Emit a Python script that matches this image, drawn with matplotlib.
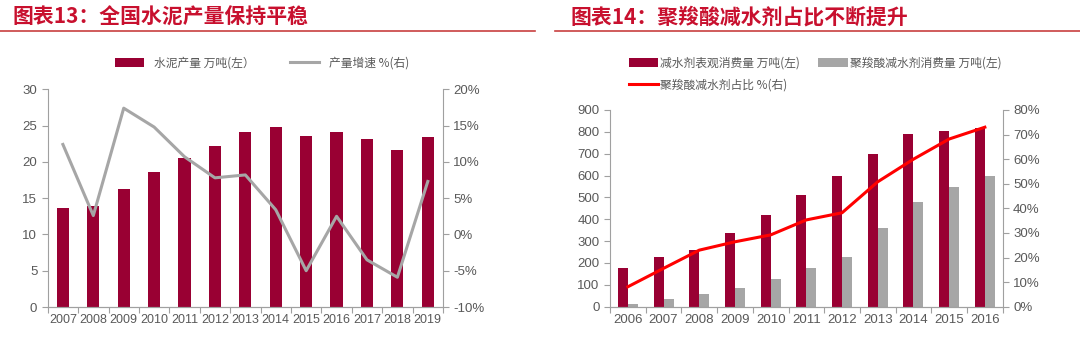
import matplotlib
matplotlib.use("Agg")
import matplotlib.pyplot as plt
import numpy as np
from matplotlib.ticker import FuncFormatter

plt.rcParams['font.family'] = ['Liberation Sans', 'Noto Sans CJK SC', 'DejaVu Sans']

# 图表13 数据
years13 = ['2007', '2008', '2009', '2010', '2011', '2012', '2013',
           '2014', '2015', '2016', '2017', '2018', '2019']
cement = [13.6, 13.9, 16.2, 18.6, 20.6, 22.2, 24.1, 24.8, 23.5, 24.1, 23.2, 21.7, 23.4]
growth = [12.4, 2.6, 17.4, 14.8, 10.7, 7.8, 8.2, 3.4, -5.0, 2.5, -3.5, -5.9, 7.3]

# 图表14 数据
years14 = ['2006', '2007', '2008', '2009', '2010', '2011', '2012',
           '2013', '2014', '2015', '2016']
reducer = [176, 227, 261, 336, 421, 510, 600, 699, 792, 803, 819]
pce = [11, 35, 58, 87, 125, 176, 227, 359, 478, 548, 600]
share = [8.1, 15.6, 23.0, 26.4, 29.2, 35.3, 38.2, 50.8, 60.0, 68.2, 73.0]

BAR = '#990033'
GRAY = '#A6A6A6'
TXT = '#595959'
SPINE = '#A0A0A0'
TITLE_RED = '#C8102E'
cjk = ['Noto Sans CJK SC', 'DejaVu Sans']

fig = plt.figure(figsize=(10.8, 3.46), dpi=100)
W, H = 1080, 346


def box(x0, y0, x1, y1):
    return [x0 / W, 1 - y1 / H, (x1 - x0) / W, (y1 - y0) / H]


def style(ax, ax2, n, xsize):
    for a in (ax, ax2):
        a.spines['top'].set_visible(False)
        for s in ('left', 'right', 'bottom'):
            a.spines[s].set_color(SPINE)
        a.tick_params(colors=SPINE, labelcolor=TXT, labelsize=9.5, length=4)
    ax2.spines['left'].set_visible(False)
    ax.spines['right'].set_visible(False)
    ax.set_xlim(-0.5, n - 0.5)
    ax.set_xticks(np.arange(-0.5, n, 1.0))
    ax.set_xticklabels([])
    ax.set_xticks(np.arange(n), minor=True)
    ax.tick_params(axis='x', which='minor', length=0, labelsize=xsize, labelcolor=TXT, pad=5)


# 标题
fig.text(12 / W, 1 - 17 / H, '图表13：全国水泥产量保持平稳', family=cjk, fontsize=15,
         fontweight='bold', style='italic', color=TITLE_RED, va='center')
fig.text(570 / W, 1 - 17 / H, '图表14：聚羧酸减水剂占比不断提升', family=cjk, fontsize=15,
         fontweight='bold', style='italic', color=TITLE_RED, va='center')
fig.add_artist(plt.Line2D([0, 535 / W], [1 - 31 / H] * 2, color='#C84040', lw=1.2))
fig.add_artist(plt.Line2D([555 / W, 1], [1 - 31 / H] * 2, color='#C84040', lw=1.2))

# 左图
ax = fig.add_axes(box(47.7, 89.3, 443, 307))
ax2 = ax.twinx()
x = np.arange(len(years13))
b1 = ax.bar(x, cement, width=0.4, color=BAR)
l1, = ax2.plot(x, growth, color=GRAY, lw=2.2)
ax.set_ylim(0, 30)
ax.set_yticks(range(0, 31, 5))
ax2.set_ylim(-10, 20)
ax2.set_yticks(range(-10, 21, 5))
ax2.yaxis.set_major_formatter(FuncFormatter(lambda v, p: f'{v:.0f}%'))
style(ax, ax2, len(years13), 9)
ax.set_xticklabels(years13, minor=True)
ax.set_zorder(ax2.get_zorder() - 1)
ax2.patch.set_visible(False)
leg = fig.legend([b1, l1], ['水泥产量 万吨(左）', '产量增速 %(右)'], loc='center',
                 bbox_to_anchor=(262 / W, 1 - 63 / H), ncol=2, frameon=False,
                 prop={'family': cjk, 'size': 8.5}, handlelength=2.5, columnspacing=3)
for t in leg.get_texts():
    t.set_color(TXT)

# 右图
bx = fig.add_axes(box(610, 110, 1002.7, 306.7))
bx2 = bx.twinx()
x = np.arange(len(years14))
bw = 0.28
r1 = bx.bar(x - bw / 2, reducer, width=bw, color=BAR)
r2 = bx.bar(x + bw / 2, pce, width=bw, color=GRAY)
r3, = bx2.plot(x, share, color='#FF0000', lw=2.2)
bx.set_ylim(0, 900)
bx.set_yticks(range(0, 901, 100))
bx2.set_ylim(0, 80)
bx2.set_yticks(range(0, 81, 10))
bx2.yaxis.set_major_formatter(FuncFormatter(lambda v, p: f'{v:.0f}%'))
style(bx, bx2, len(years14), 9.5)
bx.set_xticklabels(years14, minor=True)
bx.set_zorder(bx2.get_zorder() - 1)
bx2.patch.set_visible(False)
leg2 = fig.legend([r1, r2], ['减水剂表观消费量 万吨(左)', '聚羧酸减水剂消费量 万吨(左)'],
                  loc='center left', bbox_to_anchor=(618 / W, 1 - 63 / H), ncol=2,
                  frameon=False, prop={'family': cjk, 'size': 8.5}, handlelength=2.5,
                  columnspacing=1.5, handletextpad=0.2)
leg3 = fig.legend([r3], ['聚羧酸减水剂占比 %(右)'], loc='center left',
                  bbox_to_anchor=(618 / W, 1 - 85 / H), frameon=False,
                  prop={'family': cjk, 'size': 8.5}, handlelength=2.5, handletextpad=0.2)
for lg in (leg2, leg3):
    for t in lg.get_texts():
        t.set_color(TXT)

fig.savefig('out.png', dpi=100)
